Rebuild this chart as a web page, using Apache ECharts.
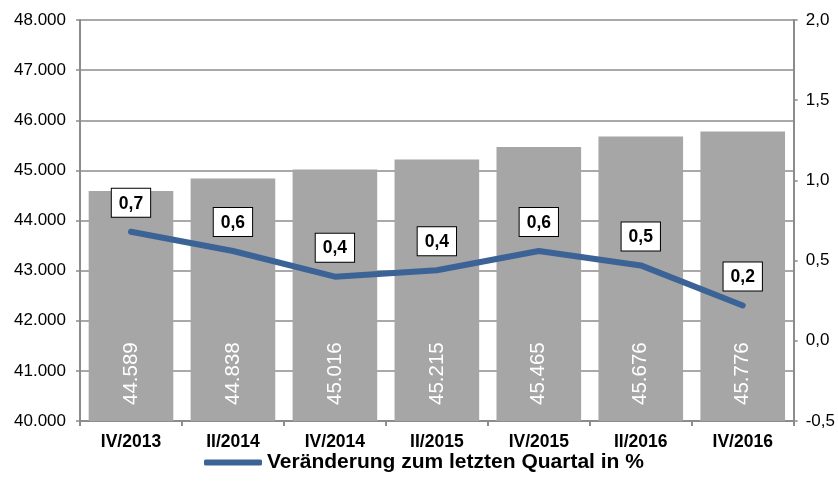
<!DOCTYPE html>
<html><head><meta charset="utf-8">
<script src="https://cdn.jsdelivr.net/npm/echarts@6/dist/echarts.min.js"></script>
<style>html,body{margin:0;padding:0;background:#fff}#c{width:838px;height:496px}</style>
</head><body><div id="c"></div>
<script>
const categories = ['IV/2013','II/2014','IV/2014','II/2015','IV/2015','II/2016','IV/2016'];
const barValues = [44589, 44838, 45016, 45215, 45465, 45676, 45776];
const changeValues = [0.68, 0.56, 0.40, 0.44, 0.56, 0.47, 0.22];
const lineName = 'Veränderung zum letzten Quartal in %';

const fmtThousands = v => String(v).replace(/\B(?=(\d{3})+(?!\d))/g, '.');
const font = '"Liberation Sans", Arial, sans-serif';
const lineColor = '#3b6396';
const chart = echarts.init(document.getElementById('c'));
chart.setOption({
  animation: false,
  textStyle: {fontFamily: font},
  grid: {left: 80, right: 43, top: 20, bottom: 75},
  legend: {
    data: [{name: lineName, icon: 'roundRect', itemStyle: {color: lineColor, opacity: 1}}],
    left: 199, top: 447, itemWidth: 58, itemHeight: 6, itemGap: 2,
    textStyle: {fontFamily: font, fontSize: 21, fontWeight: 'bold', color: '#000', padding: [0,0,0,0]}
  },
  xAxis: {
    type: 'category', data: categories,
    axisLine: {onZero: false, lineStyle: {color: '#8c8c8c', width: 2}},
    axisTick: {show: true, length: 5, lineStyle: {color: '#8c8c8c', width: 2}},
    axisLabel: {fontFamily: font, fontSize: 17.5, fontWeight: 'bold', color: '#000', margin: 12}
  },
  yAxis: [{
    type: 'value', min: 40000, max: 48000, interval: 1000,
    axisLine: {show: true, lineStyle: {color: '#8c8c8c', width: 2}},
    axisTick: {show: true, length: 4, lineStyle: {color: '#8c8c8c', width: 1.5}},
    splitLine: {lineStyle: {color: '#8c8c8c', width: 1.5}},
    axisLabel: {fontFamily: font, fontSize: 17, color: '#000', margin: 14, formatter: fmtThousands}
  }, {
    type: 'value', min: -0.5, max: 2, interval: 0.5, position: 'right',
    axisLine: {show: true, lineStyle: {color: '#8c8c8c', width: 2}},
    axisTick: {show: true, length: 4, lineStyle: {color: '#8c8c8c', width: 1.5}},
    splitLine: {show: false},
    axisLabel: {fontFamily: font, fontSize: 17, color: '#000', margin: 12,
      formatter: v => v.toFixed(1).replace('.', ',')}
  }],
  series: [{
    type: 'bar', data: barValues, barCategoryGap: '17%',
    itemStyle: {color: '#a6a6a6'},
    label: {show: true, position: 'insideBottom', rotate: 90, align: 'left', verticalAlign: 'middle',
      distance: 16, color: '#fff', fontFamily: font, fontSize: 20.5, formatter: p => fmtThousands(p.value)}
  }, {
    type: 'line', name: lineName, yAxisIndex: 1, data: changeValues,
    symbol: 'circle', symbolSize: 2, showSymbol: true,
    itemStyle: {color: lineColor},
    lineStyle: {color: lineColor, width: 6, cap: 'round', join: 'round'},
    label: {show: true, position: 'top', distance: 14, color: '#000', fontFamily: font, fontSize: 17.5,
      fontWeight: 'bold', backgroundColor: '#fff', borderColor: '#000', borderWidth: 1,
      padding: [6, 7, 4, 7], formatter: p => p.value.toFixed(1).replace('.', ',')}
  }]
});
</script></body></html>
